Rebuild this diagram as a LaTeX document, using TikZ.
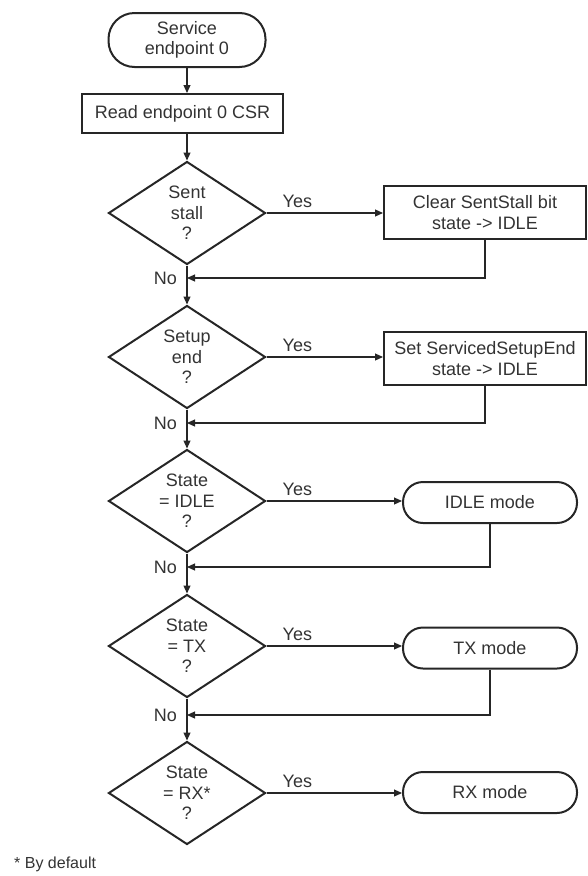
\documentclass[tikz,border=0pt]{standalone}
\usepackage{fontspec}
\setmainfont{Liberation Sans}
\usetikzlibrary{shapes.geometric,arrows.meta}
\begin{document}
\begin{tikzpicture}[x=1pt,y=-1pt,
  font=\fontsize{18}{20.5}\selectfont,
  every node/.style={text=black!80},
  shp/.style={draw=black!85, line width=2pt, inner sep=0pt, align=center},
  proc/.style={shp, rectangle, minimum width=202pt, minimum height=53pt},
  term/.style={shp, rectangle, rounded corners=20pt, minimum width=174pt, minimum height=41pt},
  dia/.style={shp, diamond, minimum width=157pt, minimum height=103pt},
  flow/.style={draw=black!85, line width=1.1pt, -{Triangle[length=8pt,width=7pt]}},
  lbl/.style={inner sep=0pt}
]
\useasboundingbox (0,0) rectangle (587,876);

% nodes
\node[term, minimum width=157pt, minimum height=54pt, rounded corners=26pt] (start) at (187,40) {Service\\endpoint 0};
\node[shp, rectangle, minimum width=201pt, minimum height=39pt] (read) at (182.5,113.5) {Read endpoint 0 CSR};

\node[dia, label={[align=center,text=black!80]center:Sent\\stall\\?}] (d1) at (187,213) {};
\node[dia, label={[align=center,text=black!80]center:Setup\\end\\?}] (d2) at (187,357) {};
\node[dia, label={[align=center,text=black!80]center:State\\= IDLE\\?}] (d3) at (187,501) {};
\node[dia, label={[align=center,text=black!80]center:State\\= TX\\?}] (d4) at (187,646) {};
\node[dia, label={[align=center,text=black!80]center:State\\= RX*\\?}] (d5) at (187,793) {};

\node[proc] (b1) at (485,212.5) {Clear SentStall bit\\state -> IDLE};
\node[proc] (b2) at (485,358.5) {Set ServicedSetupEnd\\state -> IDLE};
\node[term] (t3) at (490,502.5) {IDLE mode};
\node[term] (t4) at (490,648) {TX mode};
\node[term] (t5) at (490,792.5) {RX mode};

\coordinate (m1) at (187,278);
\coordinate (m2) at (187,423);
\coordinate (m3) at (187,567);
\coordinate (m4) at (187,715);

% main flow
\draw[flow] (start.south) -- (start.south |- read.north);
\draw[flow] (read.south -| start.south) -- (d1.north);
\draw[flow] (d1.south) -- (d2.north);
\draw[flow] (d2.south) -- (d3.north);
\draw[flow] (d3.south) -- (d4.north);
\draw[flow] (d4.south) -- (d5.north);

% yes branches
\draw[flow] (d1.east) -- (d1.east -| b1.west);
\draw[flow] (d2.east) -- (d2.east -| b2.west);
\draw[flow] (d3.east) -- (d3.east -| t3.west);
\draw[flow] (d4.east) -- (d4.east -| t4.west);
\draw[flow] (d5.east) -- (d5.east -| t5.west);

% returns
\draw[flow] (b1.south) |- (m1);
\draw[flow] (b2.south) |- (m2);
\draw[flow] (t3.south) |- (m3);
\draw[flow] (t4.south) |- (m4);

% labels
\foreach \d in {d1,d2,d3,d4,d5}
  \node[lbl, anchor=south west] (yes\d) at ([xshift=16pt,yshift=5pt]\d.east) {Yes};
\foreach \m in {m1,m2,m3,m4}
  \node[lbl, anchor=east] (no\m) at ([xshift=-10pt]\m) {No};

\node[lbl, anchor=west, font=\fontsize{16}{18}\selectfont] (foot) at (14,864) {* By default};
\end{tikzpicture}
\end{document}
